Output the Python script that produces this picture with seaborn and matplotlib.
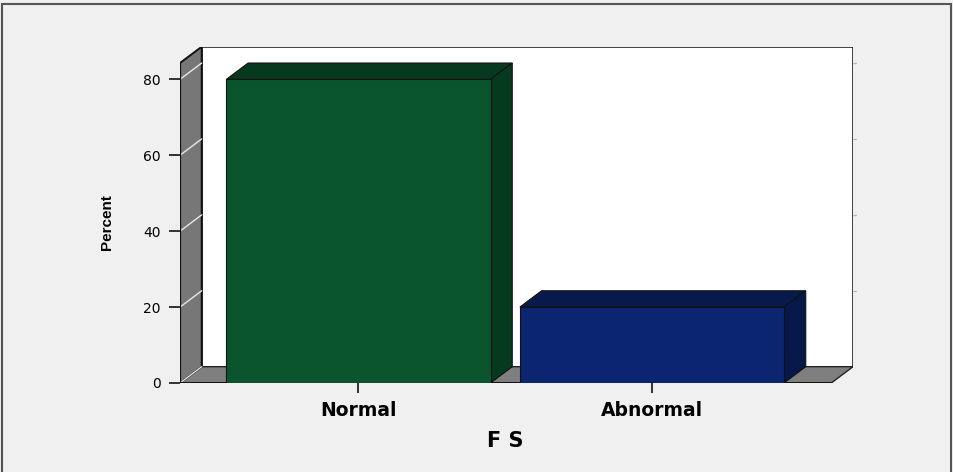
import matplotlib
matplotlib.use("Agg")
import matplotlib.pyplot as plt
from matplotlib.patches import Polygon, Rectangle
from matplotlib.lines import Line2D
import seaborn as sns
import pandas as pd

# Frequency table of F S
categories = ["Normal", "Abnormal"]
percent = [80.0, 20.0]
y_ticks = [0, 20, 40, 60, 80]
bar_colors = ["#0b552e", "#0b2570"]
top_colors = ["#07391f", "#081a4c"]
side_colors = ["#063a1e", "#061849"]

df = pd.DataFrame({"FS": categories, "Percent": percent})

sns.set_theme(style="white")
plt.rcParams["font.family"] = ["DejaVu Sans"]

fig = plt.figure(figsize=(9.54, 4.72), dpi=100, facecolor="#f0f0f0")
ax = fig.add_axes([180 / 954, 89 / 472, 673 / 954, 336.3 / 472])
ax.set_facecolor("none")

# 3-D frame geometry (data units)
x0, x1 = -0.608, 1.685
top = 88.6
ddx, ddy = 0.074, 4.3
xf1 = x1 - ddx

# back wall
ax.add_patch(Rectangle((x0 + ddx, ddy), x1 - x0 - ddx, top - ddy,
                       facecolor="white", edgecolor="#222222", lw=1.2, zorder=0))
# floor
ax.add_patch(Polygon([(x0, 0), (xf1, 0), (x1, ddy), (x0 + ddx, ddy)],
                     facecolor="#7f7f7f", edgecolor="#222222", lw=1.0, zorder=0.5))
# left wall
ax.add_patch(Polygon([(x0, 0), (x0, top - ddy), (x0 + ddx, top), (x0 + ddx, ddy)],
                     facecolor="#777777", edgecolor="#111111", lw=1.4, zorder=0.6))
# grid lines on the left wall and marks on the right edge of the back wall
for v in y_ticks:
    ax.add_line(Line2D([x0, x0 + ddx], [v, v + ddy], color="#e8e8e8", lw=1.0, zorder=0.7))
    if v > 0:
        ax.add_line(Line2D([x1, x1 + 0.01], [v + ddy, v + ddy], color="#bbbbbb",
                           lw=1.0, zorder=0.7, clip_on=False))
ax.add_line(Line2D([x0, x0], [0, top - ddy], color="#111111", lw=1.6, zorder=0.8))
ax.add_line(Line2D([x0, xf1], [0, 0], color="#111111", lw=1.4, zorder=0.8))

# front faces of the bars
sns.barplot(data=df, x="FS", y="Percent", order=categories, hue="FS",
            palette=bar_colors, width=0.9, legend=False, ax=ax,
            edgecolor="#111111", linewidth=0.8, saturation=1, zorder=3)

bars = [b for c in ax.containers for b in c]

# top and side faces derived from each bar
for i, p in enumerate(bars):
    bx, bw, bh = p.get_x(), p.get_width(), p.get_height()
    ax.add_patch(Polygon([(bx, bh), (bx + ddx, bh + ddy), (bx + bw + ddx, bh + ddy), (bx + bw, bh)],
                         facecolor=top_colors[i], edgecolor="#111111", lw=0.8, zorder=2))
    ax.add_patch(Polygon([(bx + bw, 0), (bx + bw, bh), (bx + bw + ddx, bh + ddy), (bx + bw + ddx, ddy)],
                         facecolor=side_colors[i], edgecolor="#111111", lw=0.8, zorder=2))

ax.set_xlim(x0, x1)
ax.set_ylim(0, top)
for s in ax.spines.values():
    s.set_visible(False)

ax.set_yticks(y_ticks)
ax.set_yticklabels([str(v) for v in y_ticks], fontsize=10, color="black")
ax.tick_params(axis="y", direction="out", length=8, width=1.2, color="#111111",
               pad=6, left=True)
ax.tick_params(axis="x", direction="out", length=7, width=1.2, color="#111111",
               pad=6, bottom=True)
ax.set_xticks(range(len(categories)))
ax.set_xticklabels(categories, fontsize=13.5, fontweight="bold", color="black")

ax.set_ylabel("Percent", fontsize=11, fontweight="bold", color="black",
              family=["Liberation Sans", "DejaVu Sans"])
ax.yaxis.set_label_coords((107 - 180) / 673, (383 - 222) / 336.3)
ax.set_xlabel("F S", fontsize=15, fontweight="bold", color="black")
ax.xaxis.set_label_coords((505 - 180) / 673, (383 - 441) / 336.3)
ax.xaxis.label.set_va("center")
ax.yaxis.label.set_va("center")

# outer border of the chart area
fig.patches.append(Rectangle((1.5 / 954, -10 / 472), 950 / 954, 478.5 / 472,
                             transform=fig.transFigure, fill=False,
                             edgecolor="#555555", lw=1.5))

fig.savefig("out.png", dpi=100, facecolor="#f0f0f0")
